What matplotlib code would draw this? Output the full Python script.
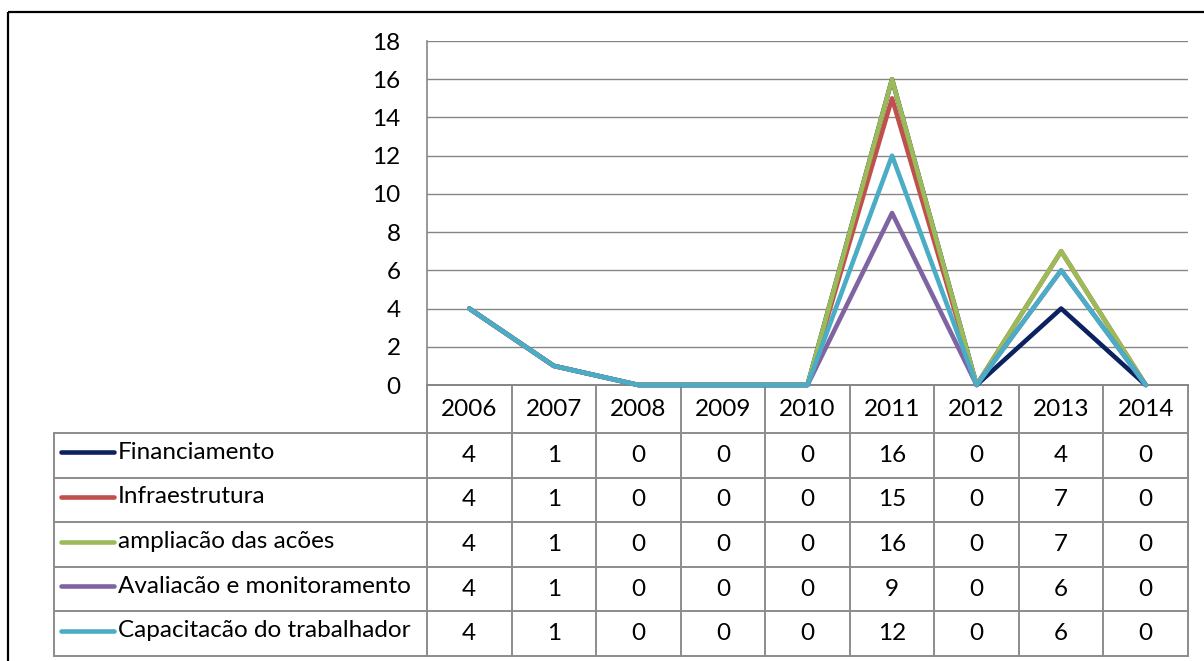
import matplotlib
matplotlib.use("Agg")
import matplotlib.pyplot as plt
from matplotlib.lines import Line2D
from matplotlib.patches import Rectangle

# ----------------------------
# Data
# ----------------------------
years = ["2006", "2007", "2008", "2009", "2010", "2011", "2012", "2013", "2014"]
series_names = [
    "Financiamento",
    "Infraestrutura",
    "ampliacão das acões",
    "Avaliacão e monitoramento",
    "Capacitacão do trabalhador",
]
financiamento = [4, 1, 0, 0, 0, 16, 0, 4, 0]
infraestrutura = [4, 1, 0, 0, 0, 15, 0, 7, 0]
ampliacao = [4, 1, 0, 0, 0, 16, 0, 7, 0]
avaliacao = [4, 1, 0, 0, 0, 9, 0, 6, 0]
capacitacao = [4, 1, 0, 0, 0, 12, 0, 6, 0]
series_values = [financiamento, infraestrutura, ampliacao, avaliacao, capacitacao]
colors = ["#0c2260", "#c0504d", "#9bbb59", "#8064a2", "#4bacc6"]

# ----------------------------
# Layout (pixels)
# ----------------------------
W, H = 1204, 661
PLOT_L, PLOT_R = 427, 1188
PLOT_T, PLOT_B = 41, 385
HEAD_B = 433
ROW_H = 44.6
LEG_L = 54
GRID_C = "#868686"
TABLE_C = "#8c8c8c"
FONT = "Lato"
FS = 17.5

plt.rcParams["font.family"] = [FONT, "DejaVu Sans"]

fig = plt.figure(figsize=(W / 100, H / 100), dpi=100)

# pixel-space overlay for the data table and the outer frame
bg = fig.add_axes([0, 0, 1, 1], zorder=0)
bg.set_xlim(0, W)
bg.set_ylim(H, 0)
bg.axis("off")

ax = fig.add_axes([PLOT_L / W, 1 - PLOT_B / H,
                   (PLOT_R - PLOT_L) / W, (PLOT_B - PLOT_T) / H], zorder=1)
ax.patch.set_alpha(0)

x = list(range(len(years)))
for vals, c in zip(series_values, colors):
    ax.plot(x, vals, color=c, lw=3.3, solid_joinstyle="round",
            solid_capstyle="round", clip_on=False, zorder=3)

ax.set_xlim(-0.5, len(years) - 0.5)
ax.set_ylim(0, 18)
ax.set_yticks(range(0, 19, 2))
ax.set_xticks([])
ax.yaxis.grid(True, color=GRID_C, lw=1.0)
ax.set_axisbelow(True)
ax.tick_params(axis="y", length=0, pad=19, labelsize=FS)
for side in ["top", "right"]:
    ax.spines[side].set_visible(False)
for side in ["left", "bottom"]:
    ax.spines[side].set_color(GRID_C)
    ax.spines[side].set_linewidth(1.2)

# ----------------------------
# Data table under the chart
# ----------------------------
n_rows = len(series_names)
col_w = (PLOT_R - PLOT_L) / len(years)
table_b = HEAD_B + n_rows * ROW_H
lkw = dict(color=TABLE_C, lw=1.4, zorder=1)

# column borders
for i in range(len(years) + 1):
    cx = PLOT_L + i * col_w
    bg.add_line(Line2D([cx, cx], [PLOT_B, table_b], **lkw))
bg.add_line(Line2D([LEG_L, LEG_L], [HEAD_B, table_b], **lkw))
# row borders
bg.add_line(Line2D([PLOT_L, PLOT_R], [PLOT_B, PLOT_B], **lkw))
for r in range(n_rows + 1):
    ry = HEAD_B + r * ROW_H
    bg.add_line(Line2D([LEG_L, PLOT_R], [ry, ry], **lkw))

for i, yr in enumerate(years):
    cx = PLOT_L + (i + 0.5) * col_w
    bg.text(cx, (PLOT_B + HEAD_B) / 2, yr, ha="center", va="center",
            fontsize=FS, color="black")

for r, (name, vals, c) in enumerate(zip(series_names, series_values, colors)):
    cy = HEAD_B + (r + 0.5) * ROW_H
    bg.add_line(Line2D([61, 114], [cy - 3, cy - 3], color=c, lw=3.3,
                       solid_capstyle="round"))
    bg.text(118, cy - 3, name, ha="left", va="center", fontsize=FS, color="black")
    for i, v in enumerate(vals):
        cx = PLOT_L + (i + 0.5) * col_w
        bg.text(cx, cy, str(v), ha="center", va="center", fontsize=FS, color="black")

# outer chart frame
bg.add_patch(Rectangle((8, 12), W, H, fill=False, edgecolor="black", lw=1.6,
                       clip_on=False))

fig.savefig("out.png", dpi=100)
